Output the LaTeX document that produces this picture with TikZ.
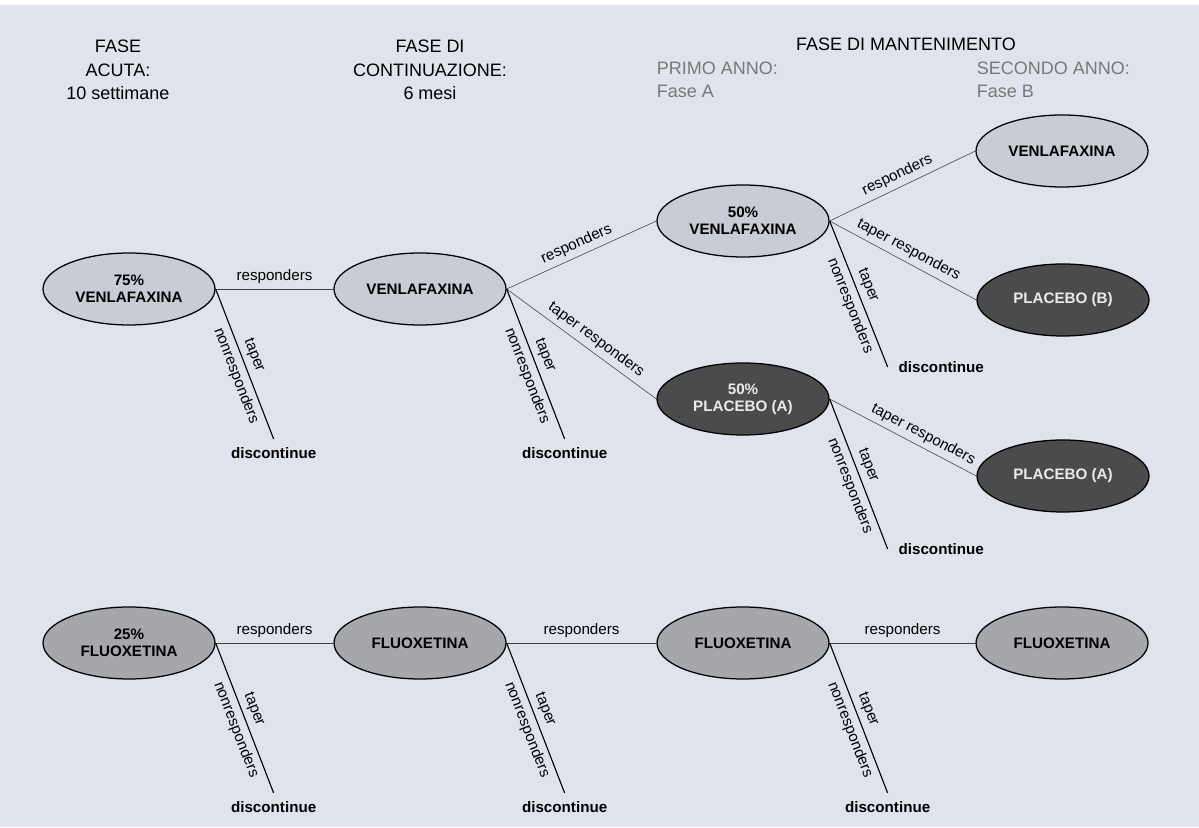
\documentclass[tikz,border=0pt]{standalone}
\usepackage{fontspec}
\setmainfont{Liberation Sans}
\usetikzlibrary{shapes.geometric,positioning}
\definecolor{bgblue}{RGB}{224,227,236}
\definecolor{venlafill}{RGB}{201,204,212}
\definecolor{fluoxfill}{RGB}{166,167,172}
\definecolor{placebofill}{RGB}{75,75,78}
\definecolor{placebotext}{RGB}{235,235,235}
\definecolor{yeargray}{RGB}{120,120,120}
\tikzset{
  drug/.style={ellipse,draw,line width=0.9pt,minimum width=4.3cm,minimum height=1.8cm,
    inner sep=0pt,align=center,font=\bfseries\fontsize{10.8}{12.3}\selectfont},
  venla/.style={drug,fill=venlafill},
  placebo/.style={drug,fill=placebofill,text=placebotext},
  fluox/.style={drug,fill=fluoxfill},
  resp/.style={line width=0.4pt,draw=black!75},
  taperline/.style={line width=0.8pt},
  lbl/.style={font=\fontsize{10.8}{12.3}\selectfont},
  stoptext/.style={font=\bfseries\fontsize{10.8}{12.3}\selectfont},
  head/.style={font=\fontsize{12.8}{16.5}\selectfont,align=center},
}
\begin{document}
\begin{tikzpicture}
	% background
	\fill [white] (0,0) rectangle (29.975,20.675);
	\fill [bgblue] (0,0) rectangle (29.975,20.55);
	\useasboundingbox (0,0) rectangle (29.975,20.675);
	% headings
	\node [head] (HA) at (2.95,18.925) {FASE\\ACUTA:\\10 settimane};
	\node [head] (HC) at (10.75,18.925) {FASE DI\\CONTINUAZIONE:\\6 mesi};
	\node [head] (HM) at (22.65,19.575) {FASE DI MANTENIMENTO};
	\node [head,align=left,anchor=west,text=yeargray] (HY1) at (16.3,18.675) {PRIMO ANNO:\\Fase A};
	\node [head,align=left,anchor=west,text=yeargray] (HY2) at (24.3,18.675) {SECONDO ANNO:\\Fase B};
	% drug nodes
	\node [venla] (A1) at (3.225,13.45) {75\%\\VENLAFAXINA};
	\node [venla] (C1) at (10.5,13.45) {VENLAFAXINA};
	\node [venla] (M1) at (18.575,15.15) {50\%\\VENLAFAXINA};
	\node [placebo] (M2) at (18.575,10.7) {50\%\\PLACEBO (A)};
	\node [venla] (B1) at (26.55,16.9) {VENLAFAXINA};
	\node [placebo] (B2) at (26.575,13.175) {PLACEBO (B)};
	\node [placebo] (B3) at (26.575,8.775) {PLACEBO (A)};
	\node [fluox] (F1) at (3.225,4.6) {25\%\\FLUOXETINA};
	\node [fluox] (F2) at (10.5,4.6) {FLUOXETINA};
	\node [fluox] (F3) at (18.575,4.6) {FLUOXETINA};
	\node [fluox] (F4) at (26.55,4.6) {FLUOXETINA};
	% responders
	\draw [resp] (A1.east) -- node [lbl,above] {responders} (C1.west);
	\draw [resp] (C1.east) -- node [lbl,above,sloped] {responders} (M1.west);
	\draw [resp] (C1.east) -- node [lbl,above,sloped,pos=.55] {taper responders} (M2.west);
	\draw [resp] (M1.east) -- node [lbl,above,sloped] {responders} (B1.west);
	\draw [resp] (M1.east) -- node [lbl,above,sloped] {taper responders} (B2.west);
	\draw [resp] (M2.east) -- node [lbl,above,sloped,pos=.6] {taper responders} (B3.west);
	\draw [resp] (F1.east) -- node [lbl,above] {responders} (F2.west);
	\draw [resp] (F2.east) -- node [lbl,above] {responders} (F3.west);
	\draw [resp] (F3.east) -- node [lbl,above] {responders} (F4.west);
	% taper / nonresponders
	\path (A1.east) ++(1.45,-3.75) coordinate (A1x);
	\path (C1.east) ++(1.45,-3.75) coordinate (C1x);
	\path (M1.east) ++(1.45,-3.65) coordinate (M1x);
	\path (M2.east) ++(1.45,-3.75) coordinate (M2x);
	\path (F1.east) ++(1.45,-3.75) coordinate (F1x);
	\path (F2.east) ++(1.45,-3.75) coordinate (F2x);
	\path (F3.east) ++(1.45,-3.75) coordinate (F3x);
	\node [stoptext,below=.1 of A1x] (A1s) {discontinue};
	\node [stoptext,below=.1 of C1x] (C1s) {discontinue};
	\node [stoptext,right=.15 of M1x] (M1s) {discontinue};
	\node [stoptext,right=.15 of M2x] (M2s) {discontinue};
	\node [stoptext,below=.1 of F1x] (F1s) {discontinue};
	\node [stoptext,below=.1 of F2x] (F2s) {discontinue};
	\node [stoptext,below=.1 of F3x] (F3s) {discontinue};
	\draw [taperline] (A1.east) -- node [lbl,above,sloped,pos=.47] {taper}
		node [lbl,below,sloped,pos=.55] {nonresponders} (A1x);
	\draw [taperline] (C1.east) -- node [lbl,above,sloped,pos=.47] {taper}
		node [lbl,below,sloped,pos=.55] {nonresponders} (C1x);
	\draw [taperline] (M1.east) -- node [lbl,above,sloped,pos=.47] {taper}
		node [lbl,below,sloped,pos=.55] {nonresponders} (M1x);
	\draw [taperline] (M2.east) -- node [lbl,above,sloped,pos=.47] {taper}
		node [lbl,below,sloped,pos=.55] {nonresponders} (M2x);
	\draw [taperline] (F1.east) -- node [lbl,above,sloped,pos=.47] {taper}
		node [lbl,below,sloped,pos=.55] {nonresponders} (F1x);
	\draw [taperline] (F2.east) -- node [lbl,above,sloped,pos=.47] {taper}
		node [lbl,below,sloped,pos=.55] {nonresponders} (F2x);
	\draw [taperline] (F3.east) -- node [lbl,above,sloped,pos=.47] {taper}
		node [lbl,below,sloped,pos=.55] {nonresponders} (F3x);
\end{tikzpicture}
\end{document}
